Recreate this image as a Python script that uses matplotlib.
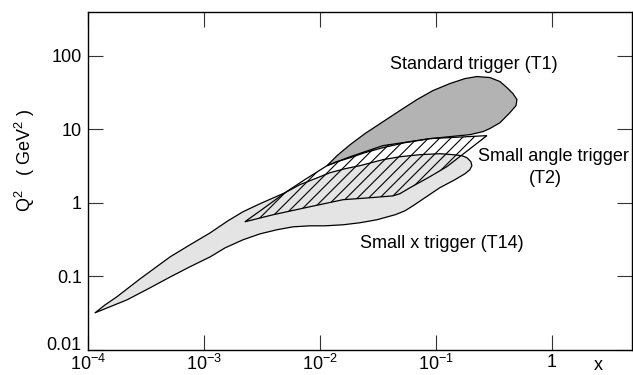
import matplotlib
matplotlib.use("Agg")
import matplotlib.pyplot as plt
import matplotlib.transforms as mtransforms
import numpy as np
from matplotlib.patches import Polygon

plt.rcParams['font.family'] = ['Liberation Sans', 'DejaVu Sans']
plt.rcParams['mathtext.fontset'] = 'custom'
plt.rcParams['mathtext.rm'] = 'Liberation Sans'
plt.rcParams['mathtext.it'] = 'Liberation Sans:italic'
plt.rcParams['mathtext.bf'] = 'Liberation Sans:bold'
plt.rcParams['hatch.linewidth'] = 0.8

# kinematic regions in the (x, Q^2) plane, outlines traced clockwise
t14_x = [1.15e-4, 1.40e-4, 1.78e-4, 2.81e-4, 5.1e-4, 7.56e-4, 1.13e-3, 1.61e-3,
         2.17e-3, 3.04e-3, 5.0e-3, 6.7e-3, 9.06e-3, 0.0122, 0.01645, 0.0221,
         0.0349, 0.049, 0.0728, 0.108, 0.140, 0.1675, 0.185, 0.200, 0.204,
         0.196, 0.178, 0.146, 0.108, 0.0803, 0.0634, 0.0541, 0.0444, 0.031,
         0.0221, 0.0158, 0.01104, 8.2e-3, 5.85e-3, 4.26e-3, 3.04e-3, 2.17e-3,
         1.52e-3, 1.13e-3, 7.56e-4, 5.1e-4, 3.42e-4, 2.17e-4]
t14_q2 = [0.032, 0.0409, 0.053, 0.0925, 0.184, 0.268, 0.39, 0.569,
          0.755, 0.97, 1.37, 1.76, 2.12, 2.56, 2.90, 3.19,
          3.85, 4.22, 4.5, 4.64, 4.5, 4.36, 4.09, 3.61, 3.19,
          2.81, 2.48, 2.06, 1.60, 1.17, 0.91, 0.778, 0.687, 0.588,
          0.535, 0.502, 0.486, 0.486, 0.471, 0.43, 0.378, 0.314,
          0.244, 0.184, 0.135, 0.098, 0.0698, 0.048]

t2_x = [2.25e-3, 3.23e-3, 5.0e-3, 7.4e-3, 0.0115, 0.0182, 0.0349, 0.0887,
        0.275, 0.124, 0.0887, 0.0597, 0.049, 0.0426, 0.027, 0.0158,
        8.2e-3, 3.94e-3]
t2_q2 = [0.551, 0.828, 1.37, 2.06, 3.19, 4.22, 5.97, 7.43,
         8.16, 3.09, 2.26, 1.60, 1.33, 1.24, 1.17, 1.10,
         0.883, 0.687]

t1_x = [0.0115, 0.01403, 0.0182, 0.0244, 0.0349, 0.049, 0.0686, 0.0942,
        0.132, 0.178, 0.225, 0.292, 0.356, 0.409, 0.461, 0.499, 0.490,
        0.435, 0.356, 0.292, 0.254, 0.196, 0.132, 0.0887, 0.0541, 0.0349,
        0.0244, 0.0182, 0.01403]
t1_q2 = [3.19, 4.36, 6.15, 8.69, 12.6, 17.9, 25.2, 33.4,
         41.6, 48.6, 51.8, 50.2, 44.3, 36.7, 30.4, 25.2, 20.9,
         16.8, 12.2, 10.2, 9.25, 8.41, 7.91, 7.43, 6.55, 5.60,
         4.79, 4.09, 3.61]

x_ticks = [1e-4, 1e-3, 1e-2, 1e-1, 1]
x_labels = [r'$10^{-4}$', r'$10^{-3}$', r'$10^{-2}$', r'$10^{-1}$', '1']
y_ticks = [0.01, 0.1, 1, 10, 100]
y_labels = ['0.01', '0.1', '1', '10', '100']

fig = plt.figure(figsize=(6.33, 3.75), dpi=100)
ax = fig.add_axes([88 / 633, 25 / 375, 544 / 633, 338 / 375])
ax.set_xscale('log')
ax.set_yscale('log')
ax.set_xlim(1e-4, 4.9)
ax.set_ylim(0.01, 390)

ax.add_patch(Polygon(np.column_stack([t14_x, t14_q2]), closed=True,
                     facecolor='#e4e4e4', edgecolor='black', lw=0.9,
                     joinstyle='round'))
ax.add_patch(Polygon(np.column_stack([t1_x, t1_q2]), closed=True,
                     facecolor='#b3b3b3', edgecolor='black', lw=0.9,
                     joinstyle='round'))
ax.add_patch(Polygon(np.column_stack([t2_x, t2_q2]), closed=True,
                     facecolor='none', edgecolor='black', lw=0.9, hatch='///'))

ax.text(0.0401, 64.6, 'Standard trigger (T1)', fontsize=13, ha='left', va='baseline')
ax.text(1.02, 3.73, 'Small angle trigger', fontsize=13, ha='center', va='baseline')
ax.text(0.87, 1.87, '(T2)', fontsize=13, ha='center', va='baseline')
ax.text(0.0221, 0.244, 'Small x trigger (T14)', fontsize=13, ha='left', va='baseline')

ax.xaxis.set_major_locator(matplotlib.ticker.FixedLocator(x_ticks))
ax.xaxis.set_major_formatter(matplotlib.ticker.FixedFormatter(x_labels))
ax.yaxis.set_major_locator(matplotlib.ticker.FixedLocator(y_ticks))
ax.yaxis.set_major_formatter(matplotlib.ticker.FixedFormatter(y_labels))
ax.xaxis.set_minor_locator(matplotlib.ticker.NullLocator())
ax.yaxis.set_minor_locator(matplotlib.ticker.NullLocator())
ax.tick_params(which='major', direction='in', length=10.8, width=0.8,
               top=True, right=True, labelsize=13, color='#333333')
ax.tick_params(axis='y', pad=4.5)
ax.tick_params(axis='x', pad=3)
for s in ax.spines.values():
    s.set_linewidth(1.0)

ax.set_xlabel('x', fontsize=13, va='center')
ax.xaxis.set_label_coords(0.9375, -0.045)
ax.set_ylabel(r'Q$^2$   ( GeV$^2$ )', fontsize=13, va='center')
ax.yaxis.set_label_coords(-0.116, 0.56)

# nudge the 0.01 label up so it clears the 10^-4 label below it
fig.canvas.draw()
low = ax.yaxis.get_major_ticks()[0].label1
low.set_transform(low.get_transform() +
                  mtransforms.ScaledTranslation(0, 5 / 72, fig.dpi_scale_trans))

fig.savefig('out.png', dpi=100)
